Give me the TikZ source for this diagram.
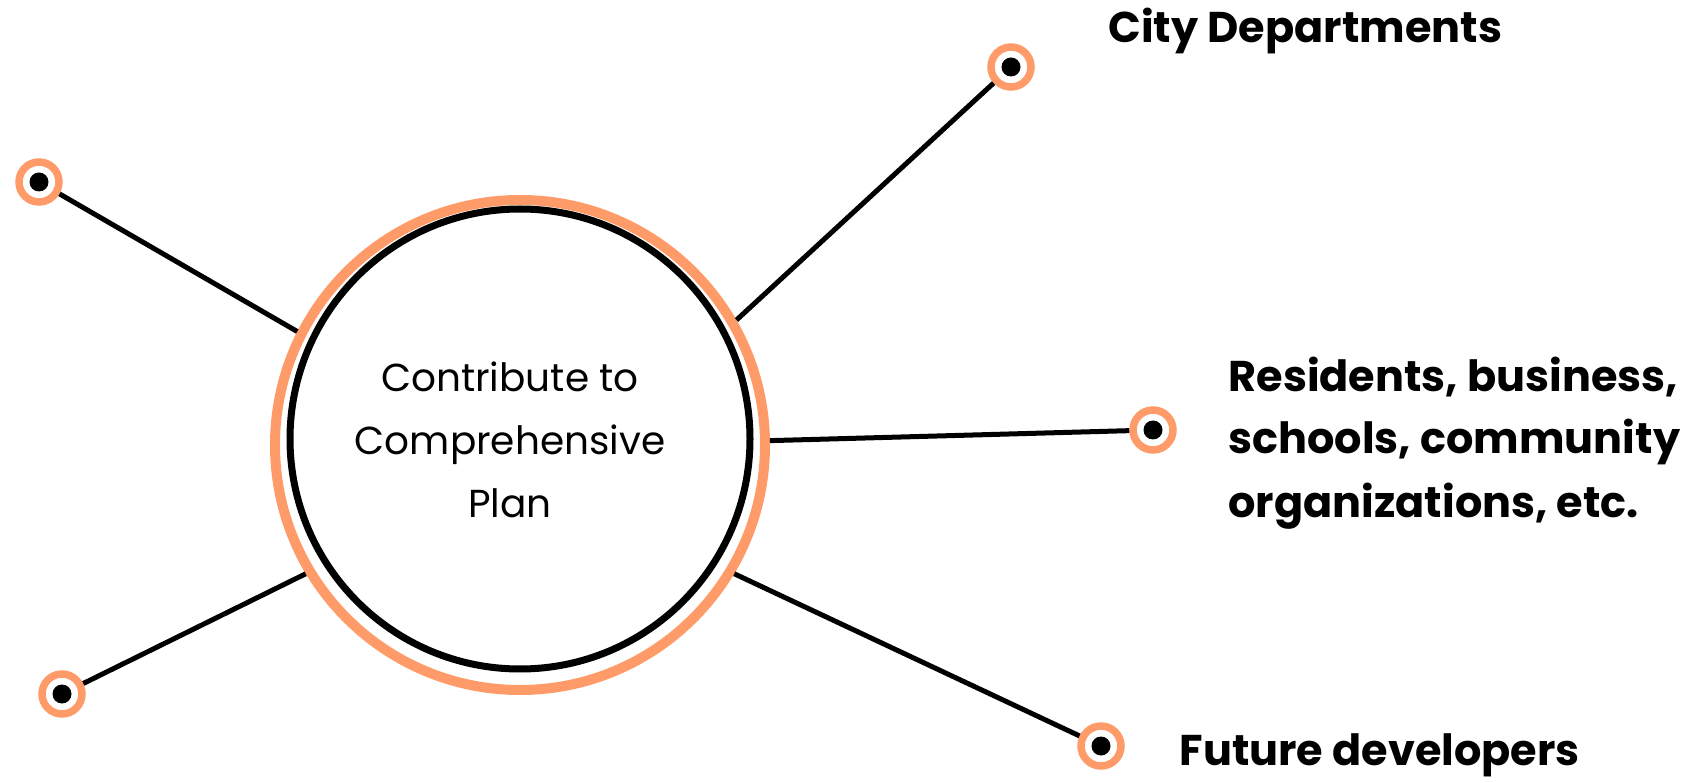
\documentclass[tikz,border=0pt]{standalone}
\usepackage{fontspec}
\setmainfont{Poppins}
\usetikzlibrary{positioning}
\definecolor{peach}{RGB}{255,155,104}

\begin{document}
\begin{tikzpicture}[x=1pt, y=-1pt, line width=5pt]
    \tikzset{stake/.style={circle, draw=peach, line width=7.5pt, fill=white, minimum size=40pt, inner sep=0pt,
        path picture={\fill[black] (path picture bounding box.center) circle (9.5pt);}}};
    \tikzset{who/.style={anchor=base west, align=left, inner sep=0pt, font=\fontsize{43}{63}\selectfont\bfseries}};
    \useasboundingbox (0,0) rectangle (1701,783);
    % Plan in the middle
    \node[circle, draw=peach, line width=10pt, minimum size=490pt, inner sep=0pt] (rim) at (520,445) {};
    \node[circle, draw, line width=7pt, minimum size=460pt, inner sep=0pt, fill=white] (plan) at (520,439) {};
    \node[align=center, inner sep=0pt, font=\fontsize{39}{63}\selectfont] (goal) at (510,440) {Contribute to\\Comprehensive\\Plan};
    % Stakeholders round it
    \foreach \n/\x/\y/\a in {nw/39/182/153, ne/1011/67/30, e/1153/430/1, se/1101/746/-31, sw/62/694/211}{
        \node[stake] (\n) at (\x,\y) {};
        \draw (\n) -- (rim.\a);
    }
    \node[who] (city) at (1106,43) {City Departments};
    \node[who] (public) at (1226,517) {Residents, business,\\schools, community\\organizations, etc.};
    \node[who] (dev) at (1177,765) {Future developers};
\end{tikzpicture}
\end{document}
